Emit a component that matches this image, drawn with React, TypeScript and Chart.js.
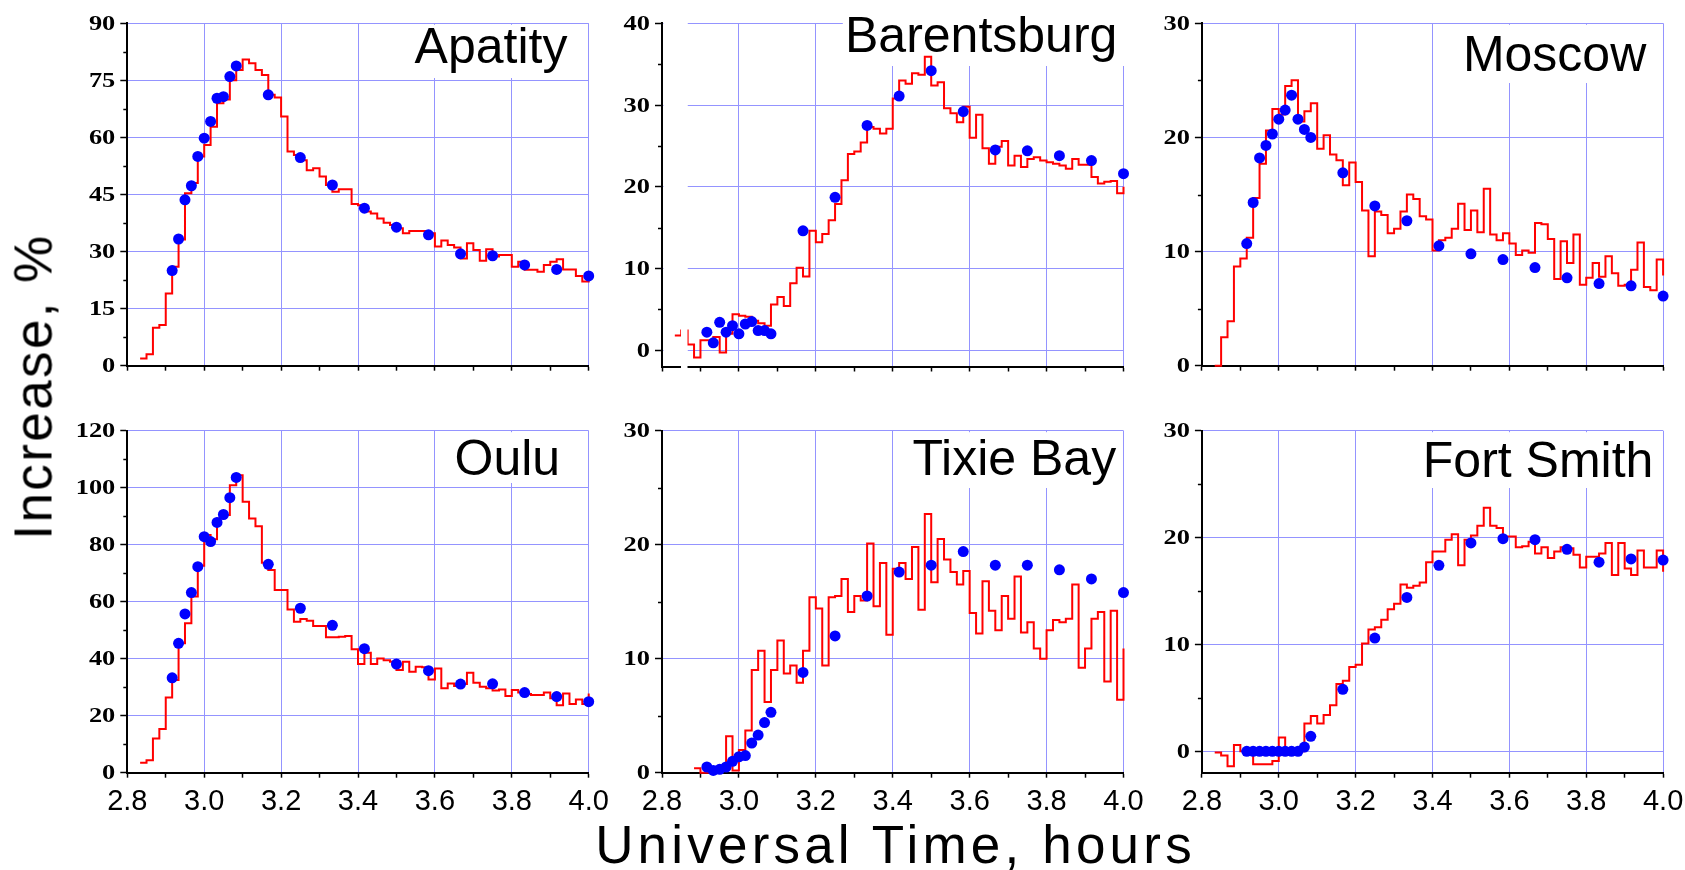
import React, { useEffect, useRef } from 'react';
import { Chart, registerables } from 'chart.js';

Chart.register(...registerables);

// ---------- shared axis data ----------
const X_MIN = 2.8;
const X_MAX = 4.0;
const X_TICKS = [2.8, 2.9, 3.0, 3.1, 3.2, 3.3, 3.4, 3.5, 3.6, 3.7, 3.8, 3.9, 4.0];
const MIN_PER_HOUR = 60;

// minute offsets (from 2.8 h) of the blue averaged points
const DOT_MINUTES = [7, 8, 9, 10, 11, 12, 13, 14, 15, 16, 17, 22, 27, 32, 37, 42, 47, 52, 57, 62, 67, 72];

// ---------- Apatity ----------
const apatityRedStart = 2; // minute offset of first 1-min value
const apatityRed = [1.9, 3.0, 10.0, 10.7, 19.0, 26.0, 33.2, 45.3, 48.0, 55.0, 58.0, 62.8, 69.0, 70.0, 75.0, 77.7, 80.5, 79.5, 77.7, 76.4, 71.2, 70.5, 65.5, 56.3, 55.4, 54.0, 51.4, 51.9, 49.7, 47.5, 45.7, 46.4, 46.4, 42.5, 42.2, 40.5, 40.0, 38.7, 37.6, 37.0, 36.1, 34.8, 35.4, 35.4, 35.4, 34.8, 31.3, 32.9, 31.7, 31.1, 28.2, 32.2, 30.4, 27.6, 30.6, 28.7, 29.1, 29.1, 26.0, 27.3, 25.2, 25.2, 24.7, 26.5, 27.3, 28.0, 25.3, 25.3, 23.6, 22.1, 24.7];
const apatityDots = [25.0, 33.3, 43.6, 47.3, 55.0, 59.8, 64.2, 70.3, 70.7, 76.0, 78.8, 71.2, 54.7, 47.5, 41.4, 36.4, 34.4, 29.4, 28.9, 26.5, 25.3, 23.6];
const apatityYTicks = [0, 15, 30, 45, 60, 75, 90];

// ---------- Barentsburg ----------
const barentsburgRedStart = 2;
const barentsburgRed = [1.8, 2.4, 0.7, -0.9, 1.2, 1.2, 1.6, -0.3, 2.0, 4.4, 4.2, 4.1, 3.6, 3.3, 3.0, 5.6, 6.5, 5.4, 8.2, 10.1, 9.0, 14.6, 13.2, 14.2, 15.9, 17.9, 20.8, 24.0, 24.3, 25.4, 27.3, 27.1, 26.5, 27.1, 30.8, 33.0, 32.6, 33.9, 33.7, 35.9, 32.4, 32.8, 29.6, 29.0, 27.9, 29.8, 26.0, 28.8, 24.7, 22.8, 24.9, 25.6, 22.6, 23.8, 22.4, 23.4, 23.6, 23.2, 23.0, 22.8, 22.6, 22.2, 23.4, 22.7, 22.7, 21.2, 20.4, 20.6, 20.7, 19.2, 20.0];
const barentsburgDots = [2.2, 0.9, 3.4, 2.2, 3.0, 2.0, 3.2, 3.5, 2.4, 2.4, 2.0, 14.6, 18.7, 27.5, 31.1, 34.2, 29.2, 24.5, 24.4, 23.8, 23.2, 21.6];
const barentsburgYTicks = [0, 10, 20, 30, 40];

// ---------- Moscow ----------
const moscowRedStart = 2;
const moscowRed = [0, 2.5, 3.9, 8.7, 9.4, 11.2, 14.7, 17.7, 20.6, 22.5, 22.0, 24.5, 25.0, 21.4, 22.3, 23.0, 19.0, 20.2, 18.5, 18.0, 15.8, 17.8, 16.1, 13.6, 9.6, 13.5, 13.2, 11.6, 12.0, 13.5, 15.0, 14.6, 13.1, 12.8, 10.1, 11.0, 11.2, 12.0, 14.2, 11.9, 13.6, 11.7, 15.5, 11.5, 11.0, 11.6, 10.7, 9.7, 10.1, 9.9, 12.5, 12.4, 11.1, 7.6, 10.9, 9.0, 11.5, 7.1, 7.7, 9.0, 7.8, 9.6, 8.1, 7.0, 7.1, 8.4, 10.8, 6.9, 6.6, 9.3, 7.9];
const moscowDots = [10.7, 14.3, 18.2, 19.3, 20.3, 21.6, 22.4, 23.7, 21.6, 20.7, 20.0, 16.9, 14.0, 12.7, 10.5, 9.8, 9.3, 8.6, 7.7, 7.2, 7.0, 6.1];
const moscowYTicks = [0, 10, 20, 30];

// ---------- Oulu ----------
const ouluRedStart = 2;
const ouluRed = [3.5, 4.4, 12, 15.3, 26.4, 32.5, 45.4, 52.4, 61.8, 72.6, 83.4, 81.9, 89.2, 90.4, 100.9, 104.4, 95.1, 89.2, 86.5, 73.7, 71.1, 64.1, 64.1, 57.3, 53, 53.9, 53.3, 51.5, 51.5, 47.5, 47.5, 47.7, 48, 43.3, 38.1, 42.1, 38.1, 40.1, 39.5, 38.9, 36, 38.9, 35.4, 37.2, 37, 32.7, 36.6, 29.6, 31.3, 30.4, 31.1, 35.1, 31.6, 30.2, 29.6, 28.8, 29.2, 26.9, 29, 28.1, 27.6, 27.3, 27.3, 28.1, 26.1, 23.7, 27.8, 24.1, 25.7, 24.1, 27.8];
const ouluDots = [33.3, 45.4, 55.7, 63.2, 72.3, 82.8, 81.1, 87.8, 90.6, 96.5, 103.6, 73.1, 57.7, 51.7, 43.5, 38.1, 35.8, 31.1, 31.2, 28.1, 26.7, 24.9];
const ouluYTicks = [0, 20, 40, 60, 80, 100, 120];

// ---------- Tixie Bay ----------
const tixieRedStart = 5;
const tixieRed = [0.4, 0, 0, 0, 0.3, 3.2, 0.2, 2.0, 3.7, 9.0, 10.7, 6.2, 9.0, 11.6, 8.7, 9.4, 7.9, 10.7, 15.4, 14.4, 9.4, 15.4, 15.5, 17.0, 14.1, 15.5, 15.1, 20.1, 14.6, 18.4, 12.1, 17.9, 18.4, 17.0, 19.8, 14.3, 22.7, 16.7, 20.5, 18.7, 17.6, 16.5, 17.7, 14.0, 12.2, 16.8, 14.2, 12.5, 15.5, 13.5, 17.2, 12.3, 13.2, 10.9, 10.0, 12.5, 13.4, 13.2, 13.5, 16.5, 9.2, 10.9, 13.5, 14.1, 8.0, 14.2, 6.4, 10.9];
const tixieDots = [0.5, 0.2, 0.3, 0.5, 1.0, 1.4, 1.5, 2.6, 3.3, 4.4, 5.3, 8.8, 12.0, 15.5, 17.6, 18.2, 19.4, 18.2, 18.2, 17.8, 17.0, 15.8];
const tixieYTicks = [0, 10, 20, 30];

// ---------- Fort Smith ----------
const fortSmithRedStart = 2;
const fortSmithRed = [-0.1, -0.4, -1.4, 0.6, 0.0, 0.0, -1.2, -1.2, -1.2, -0.9, 1.3, 0.0, 0.0, 0.0, 2.6, 3.3, 2.6, 3.4, 4.3, 6.3, 6.6, 7.9, 8.1, 10.1, 11.4, 11.6, 12.3, 13.3, 13.8, 15.6, 15.3, 15.5, 15.8, 17.7, 18.7, 18.7, 19.8, 20.3, 17.4, 19.8, 20.2, 21.1, 22.8, 21.1, 20.9, 20.1, 20.1, 19.1, 19.2, 19.6, 18.5, 19.1, 18.1, 18.7, 19.1, 19.0, 18.4, 17.2, 18.2, 18.2, 18.5, 19.5, 16.5, 19.5, 17.1, 16.5, 18.8, 17.2, 17.2, 18.8, 16.8];
const fortSmithDots = [0, 0, 0, 0, 0, 0, 0, 0, 0, 0.4, 1.4, 5.8, 10.6, 14.4, 17.4, 19.5, 19.9, 19.8, 18.9, 17.7, 18.0, 17.9];
const fortSmithYTicks = [0, 10, 20, 30];

// ---------- styles / layout ----------
const GRID = '#9494ff';
const RED = '#ff0000';
const BLUE = '#0000ff';
const SANS = '"Liberation Sans", Arial, sans-serif';
const SERIF = '"Liberation Serif", "Times New Roman", serif';

const COL_L = [127.3, 662.0, 1201.9];
const COL_R = [588.7, 1123.5, 1663.1];
const ROW_T = [23.3, 430.7];
const ROW_B = [365.7, 772.7];
const ROW_SHOWS_X_LABELS = [false, true];

type Panel = {
  name: string;
  red: number[];
  redStart: number;
  dots: number[];
  yMin: number;
  yMax: number;
  yTicks: number[];
  col: number;
  row: number;
  bottom?: number;
  titleDx: number;
  titleDy: number;
  box: [number, number, number, number];
  gap?: [number, number, number];
};

const PANELS: Panel[] = [
  { name: 'Apatity', red: apatityRed, redStart: apatityRedStart, dots: apatityDots, yMin: 0, yMax: 90, yTicks: apatityYTicks, col: 0, row: 0, titleDx: 287.3, titleDy: 40, box: [280.7, 1.5, -1.5, 54.7] },
  { name: 'Barentsburg', red: barentsburgRed, redStart: barentsburgRedStart, dots: barentsburgDots, yMin: -2, yMax: 40, yTicks: barentsburgYTicks, col: 1, row: 0, bottom: 366.5, titleDx: 183, titleDy: 29, box: [180.8, -20, 3, 42.7], gap: [1.5, 19, 25.5] },
  { name: 'Moscow', red: moscowRed, redStart: moscowRedStart, dots: moscowDots, yMin: 0, yMax: 30, yTicks: moscowYTicks, col: 2, row: 0, titleDx: 261, titleDy: 47.4, box: [256, 1.5, -1.5, 59.7] },
  { name: 'Oulu', red: ouluRed, redStart: ouluRedStart, dots: ouluDots, yMin: 0, yMax: 120, yTicks: ouluYTicks, col: 0, row: 1, titleDx: 327.2, titleDy: 44.3, box: [322.7, 1.5, -1.5, 52.3] },
  { name: 'Tixie Bay', red: tixieRed, redStart: tixieRedStart, dots: tixieDots, yMin: 0, yMax: 30, yTicks: tixieYTicks, col: 1, row: 1, titleDx: 250.4, titleDy: 44.3, box: [243, 1.5, -1.5, 57.3] },
  { name: 'Fort Smith', red: fortSmithRed, redStart: fortSmithRedStart, dots: fortSmithDots, yMin: -2, yMax: 30, yTicks: fortSmithYTicks, col: 2, row: 1, titleDx: 220.9, titleDy: 46, box: [216, 1.5, -1.5, 57.3] },
];

const isMajorX = (v: number) => Math.round(v * 10) % 2 === 0;

function PanelChart({ p }: { p: Panel }) {
  const ref = useRef<HTMLCanvasElement | null>(null);
  const L = COL_L[p.col];
  const R = COL_R[p.col];
  const T = ROW_T[p.row];
  const B = p.bottom ?? ROW_B[p.row];
  const showX = ROW_SHOWS_X_LABELS[p.row];
  const cl = Math.floor(L) - 70;
  const ct = Math.floor(T) - 22;
  const cw = Math.min(1685, Math.ceil(R) + 28) - cl;
  const ch = Math.ceil(B) + 52 - ct;

  useEffect(() => {
    const canvas = ref.current;
    if (!canvas) return;
    const YW = 20;
    const XH = 48;
    const padding = { left: L - cl - YW, top: T - ct, right: cl + cw - R, bottom: ct + ch - B - XH };

    const redData = p.red.map((v, i) => ({ x: X_MIN + (p.redStart + i) / MIN_PER_HOUR, y: v }));
    const dotData = DOT_MINUTES.map((m, i) => ({ x: X_MIN + m / MIN_PER_HOUR, y: p.dots[i] }));
    const minors: number[] = [];
    for (let i = 0; i < p.yTicks.length - 1; i++) minors.push((p.yTicks[i] + p.yTicks[i + 1]) / 2);

    const panelPlugin = {
      id: 'panelDeco',
      beforeDatasetsDraw(chart: any) {
        const ctx = chart.ctx;
        const a = chart.chartArea;
        ctx.save();
        ctx.fillStyle = '#ffffff';
        const [bx0, by0, bx1, by1] = p.box;
        ctx.fillRect(a.left + bx0, a.top + by0, a.right + bx1 - (a.left + bx0), by1 - by0);
        if (p.gap) {
          ctx.fillRect(a.left + p.gap[0], a.top - 2, p.gap[2] - p.gap[0], a.bottom - a.top + 0.5);
        }
        ctx.fillStyle = '#000000';
        ctx.font = `50px ${SANS}`;
        ctx.textAlign = 'left';
        ctx.textBaseline = 'alphabetic';
        ctx.fillText(p.name, a.left + p.titleDx, a.top + p.titleDy);
        ctx.restore();
      },
      afterDatasetsDraw(chart: any) {
        if (!p.gap) return;
        const ctx = chart.ctx;
        const a = chart.chartArea;
        ctx.save();
        ctx.fillStyle = '#ffffff';
        ctx.fillRect(a.left + p.gap[1], a.top - 2, p.gap[2] - p.gap[1], a.bottom - a.top + 4);
        ctx.restore();
      },
      afterDraw(chart: any) {
        const ctx = chart.ctx;
        const a = chart.chartArea;
        const ys = chart.scales.y;
        ctx.save();
        ctx.strokeStyle = '#000';
        ctx.lineWidth = 1.5;
        ctx.beginPath();
        for (const m of minors) {
          const y = Math.round(ys.getPixelForValue(m)) + 0.5;
          ctx.moveTo(a.left - 4, y);
          ctx.lineTo(a.left, y);
        }
        ctx.stroke();
        ctx.fillStyle = '#000';
        ctx.font = `bold 22px ${SERIF}`;
        ctx.textAlign = 'right';
        ctx.textBaseline = 'middle';
        for (const v of p.yTicks) {
          const y = ys.getPixelForValue(v);
          ctx.save();
          ctx.translate(a.left - 12, y + 1);
          ctx.scale(1.2, 1);
          ctx.fillText(String(v), 0, 0);
          ctx.restore();
        }
        ctx.restore();
      },
    };

    const chart = new Chart(canvas, {
      type: 'line',
      data: {
        datasets: [
          {
            data: dotData,
            showLine: false,
            pointRadius: 5.5,
            pointHoverRadius: 5.5,
            pointBackgroundColor: BLUE,
            pointBorderWidth: 0,
            borderColor: BLUE,
            clip: false as any,
          },
          {
            data: redData,
            stepped: 'before',
            borderColor: RED,
            borderWidth: 2,
            pointRadius: 0,
            fill: false,
            tension: 0,
            clip: false as any,
          },
        ],
      },
      options: {
        animation: false,
        responsive: false,
        devicePixelRatio: 1,
        events: [],
        layout: { padding },
        plugins: { legend: { display: false }, tooltip: { enabled: false }, title: { display: false } },
        scales: {
          x: {
            type: 'linear',
            min: X_MIN,
            max: X_MAX,
            afterBuildTicks: (s: any) => {
              s.ticks = X_TICKS.map((v) => ({ value: v }));
            },
            afterFit: (s: any) => {
              s.height = XH;
              s.paddingLeft = 0;
              s.paddingRight = 0;
            },
            grid: {
              color: (c: any) => (c.tick && isMajorX(c.tick.value) && c.tick.value > X_MIN + 1e-6 ? GRID : 'rgba(0,0,0,0)'),
              lineWidth: 1,
              tickColor: '#000',
              tickLength: 5,
              tickWidth: 1.5,
              drawTicks: true,
            },
            border: { display: true, color: '#000', width: 2 },
            ticks: {
              autoSkip: false,
              maxRotation: 0,
              minRotation: 0,
              padding: 7,
              color: '#000',
              font: { family: SANS, size: 29 },
              callback: (v: any) => (showX && isMajorX(Number(v)) ? Number(v).toFixed(1) : ''),
            },
          },
          y: {
            type: 'linear',
            min: p.yMin,
            max: p.yMax,
            afterBuildTicks: (s: any) => {
              s.ticks = p.yTicks.map((v) => ({ value: v }));
            },
            afterFit: (s: any) => {
              s.width = YW;
              s.paddingTop = 0;
              s.paddingBottom = 0;
            },
            grid: {
              color: (c: any) => (c.tick && c.tick.value === p.yMin ? 'rgba(0,0,0,0)' : GRID),
              lineWidth: 1,
              tickColor: '#000',
              tickLength: 7,
              tickWidth: 1.5,
              drawTicks: true,
            },
            border: { display: true, color: '#000', width: 2 },
            ticks: { display: false },
          },
        },
      },
      plugins: [panelPlugin],
    } as any);
    return () => chart.destroy();
  }, []);

  return (
    <canvas
      ref={ref}
      width={cw}
      height={ch}
      style={{ position: 'absolute', left: cl, top: ct, width: cw, height: ch }}
    />
  );
}

export default function App() {
  return (
    <div
      style={{
        position: 'absolute',
        left: 0,
        top: 0,
        width: 1685,
        height: 870,
        background: '#ffffff',
        overflow: 'hidden',
      }}
    >
      {PANELS.map((p) => (
        <PanelChart key={p.name} p={p} />
      ))}
      <div
        style={{
          position: 'absolute',
          left: 395.5,
          top: 818.4,
          width: 1000,
          height: 53,
          textAlign: 'center',
          fontFamily: SANS,
          fontSize: 53,
          lineHeight: '53px',
          letterSpacing: '4.2px',
          whiteSpace: 'nowrap',
          color: '#000',
        }}
      >
        Universal Time, hours
      </div>
      <div
        style={{
          position: 'absolute',
          left: 33.3 - 300,
          top: 386 - 26.5,
          width: 600,
          height: 53,
          textAlign: 'center',
          fontFamily: SANS,
          fontSize: 53,
          lineHeight: '53px',
          letterSpacing: '2.4px',
          whiteSpace: 'nowrap',
          color: '#000',
          transform: 'rotate(-90deg)',
          transformOrigin: '50% 50%',
        }}
      >
        Increase, %
      </div>
    </div>
  );
}
